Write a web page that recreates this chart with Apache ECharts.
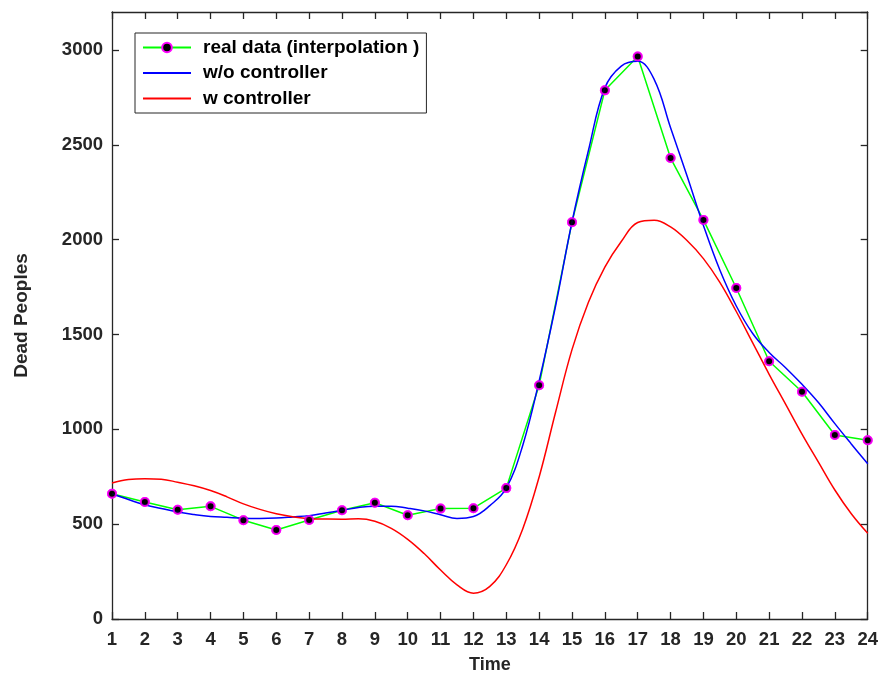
<!DOCTYPE html>
<html><head><meta charset="utf-8">
<script src="https://cdn.jsdelivr.net/npm/echarts@6/dist/echarts.min.js"></script>
<style>html,body{margin:0;padding:0;background:#fff}#c{width:881px;height:679px}</style>
</head><body><div id="c"></div>
<script>
// Time axis (x)
const timeTicks = [1,2,3,4,5,6,7,8,9,10,11,12,13,14,15,16,17,18,19,20,21,22,23,24];
// real data (interpolation)
const realData = [660,617,576,594,521,469,522,573,613,547,582,584,690,1232,2092,2787,2965,2430,2104,1745,1359,1198,970,942];
// w/o controller curve samples
const woX = [1,1.5,2,2.5,3,3.5,4,4.5,5,5.5,6,6.5,7,7.5,8,8.5,9,9.5,10,10.5,11,11.5,12,12.5,13,13.5,14,14.5,15,15.5,16,16.5,17,17.5,18,18.5,19,19.5,20,20.5,21,21.5,22,22.5,23,23.5,24];
const woY = [660,630,602,583,564,551,541,536,531,530,532,538,545,559,573,588,595,595,584,570,550,530,540,598,690,915,1255,1650,2093,2470,2800,2915,2940,2845,2590,2337,2075,1840,1650,1505,1405,1325,1237,1141,1030,923,818];
// w controller curve samples
const wX = [1,1.5,2,2.5,3,3.5,4,4.5,5,5.5,6,6.5,7,7.5,8,8.5,9,9.5,10,10.5,11,11.5,12,12.5,13,13.5,14,14.5,15,15.5,16,16.5,17,17.5,18,18.5,19,19.5,20,20.5,21,21.5,22,22.5,23,23.5,24];
const wY = [717,735,740,737,721,702,677,644,607,578,555,539,529,527,526,528,515,478,420,345,258,180,136,172,286,475,749,1090,1420,1670,1855,1990,2090,2102,2067,1995,1900,1775,1621,1456,1290,1133,975,827,680,555,452];
// y ticks
const yMin = 0, yMax = 3200, yStep = 500;

const realPairs = timeTicks.map((t,i)=>[t, realData[i]]);
const woPairs = woX.map((t,i)=>[t, woY[i]]);
const wPairs = wX.map((t,i)=>[t, wY[i]]);

const axisColor = '#262626';
const font = 'Liberation Sans, Arial, Helvetica, sans-serif';
const labelStyle = {fontSize:18.5, fontWeight:'bold', color:axisColor, fontFamily:font};
const lineSt = {lineStyle:{color:axisColor, width:1.3}};

const chart = echarts.init(document.getElementById('c'), null, {renderer:'canvas'});
chart.setOption({
  animation:false,
  backgroundColor:'#fff',
  grid:{left:112, right:13, top:12, bottom:56, containLabel:false},
  legend:{
    orient:'vertical', left:135, top:33,
    data:[
      {name:'real data (interpolation )'},
      {name:'w/o controller', itemStyle:{opacity:0}},
      {name:'w controller', itemStyle:{opacity:0}}
    ],
    itemWidth:48, itemHeight:12, itemGap:6.5,
    padding:[5,7,5,7],
    borderColor:axisColor, borderWidth:1, backgroundColor:'#fff',
    textStyle:{fontSize:19, fontWeight:'bold', color:'#000', fontFamily:font, padding:[0,0,0,7]}
  },
  xAxis:[{
    type:'value', min:1, max:24, interval:1, position:'bottom',
    axisLine:{onZero:false, ...lineSt},
    axisTick:{inside:true, length:7, ...lineSt},
    axisLabel:{...labelStyle, margin:11},
    splitLine:{show:false},
    name:'Time', nameLocation:'middle', nameGap:37,
    nameTextStyle:{...labelStyle, fontSize:18}
  },{
    type:'value', min:1, max:24, interval:1, position:'top',
    axisLine:{onZero:false, ...lineSt},
    axisTick:{inside:true, length:7, ...lineSt},
    axisLabel:{show:false}, splitLine:{show:false}
  }],
  yAxis:[{
    type:'value', min:yMin, max:yMax, interval:yStep, position:'left',
    axisLine:{show:true, onZero:false, ...lineSt},
    axisTick:{show:true, inside:true, length:7, ...lineSt},
    axisLabel:{...labelStyle, margin:9, showMaxLabel:false, formatter:(v)=>String(v)},
    splitLine:{show:false},
    name:'Dead Peoples', nameLocation:'middle', nameGap:81,
    nameTextStyle:{...labelStyle, fontSize:19}
  },{
    type:'value', min:yMin, max:yMax, interval:yStep, position:'right',
    axisLine:{show:true, onZero:false, ...lineSt},
    axisTick:{show:true, inside:true, length:7, ...lineSt},
    axisLabel:{show:false}, splitLine:{show:false}
  }],
  series:[
    {
      name:'real data (interpolation )', type:'line', data:realPairs, z:2,
      lineStyle:{color:'#00ff00', width:1.5},
      symbol:'circle', symbolSize:8, showSymbol:true,
      itemStyle:{color:'#000', borderColor:'#ff00ff', borderWidth:2}
    },
    {
      name:'w/o controller', type:'line', data:woPairs, z:3, smooth:0.4,
      showSymbol:false, symbol:'none',
      lineStyle:{color:'#0000ff', width:1.5}, itemStyle:{color:'#0000ff'}
    },
    {
      name:'w controller', type:'line', data:wPairs, z:3, smooth:0.4,
      showSymbol:false, symbol:'none',
      lineStyle:{color:'#ff0000', width:1.5}, itemStyle:{color:'#ff0000'}
    },
    {
      name:'markers', type:'scatter', data:realPairs, z:5,
      symbol:'circle', symbolSize:8,
      itemStyle:{color:'#000', borderColor:'#ff00ff', borderWidth:2}
    }
  ]
});
</script>
</body></html>
